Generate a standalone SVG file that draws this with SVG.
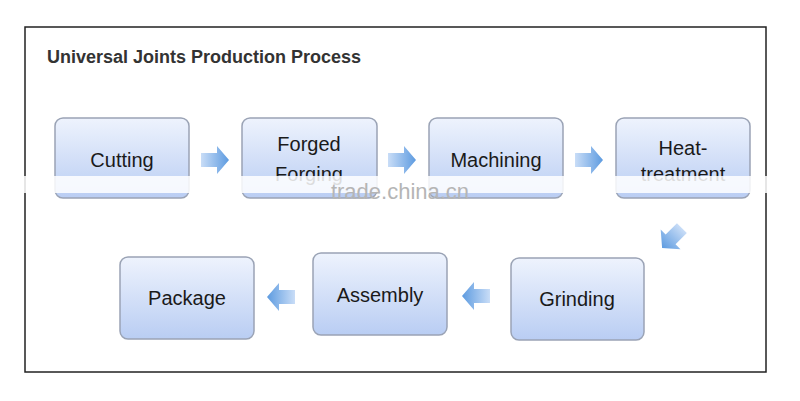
<svg xmlns="http://www.w3.org/2000/svg" width="800" height="401" viewBox="0 0 800 401">
<defs>
<linearGradient id="g" x1="0" y1="0" x2="0" y2="1"><stop offset="0" stop-color="#eef3fd"/><stop offset="1" stop-color="#b9cdf3"/></linearGradient>
<linearGradient id="a" x1="0" y1="0" x2="1" y2="0"><stop offset="0" stop-color="#c9ddf7"/><stop offset="1" stop-color="#5d9be0"/></linearGradient>
<path id="arr" d="M-14,-7 H2 V-14 L14,0 L2,14 V7 H-14 Z" fill="url(#a)"/>
</defs>
<style>
.b{fill:url(#g);stroke:#9aa3b5;stroke-width:1.5}
.t{font-family:"Liberation Sans",Arial,sans-serif;font-size:20px;fill:#1a1a1a;text-anchor:middle}
</style>
<rect width="800" height="401" fill="#fff"/>
<rect x="25" y="27" width="741" height="345" fill="none" stroke="#222" stroke-width="1.5"/>
<text x="47" y="63" font-family="Liberation Sans,Arial,sans-serif" font-size="18" font-weight="bold" fill="#333">Universal Joints Production Process</text>
<g id="cutting"><rect class="b" x="55" y="118" width="134" height="80" rx="8"/><text class="t" x="122" y="167">Cutting</text></g>
<g id="forging"><rect class="b" x="242" y="118" width="135" height="80" rx="8"/><text class="t" x="309" y="151">Forged</text><text class="t" x="309" y="181">Forging</text></g>
<g id="machining"><rect class="b" x="429" y="118" width="134" height="80" rx="8"/><text class="t" x="496" y="167">Machining</text></g>
<g id="heat"><rect class="b" x="616" y="118" width="134" height="80" rx="8"/><text class="t" x="683" y="155">Heat-</text><text class="t" x="683" y="181">treatment</text></g>
<g id="grinding"><rect class="b" x="511" y="258" width="133" height="82" rx="8"/><text class="t" x="577" y="306">Grinding</text></g>
<g id="assembly"><rect class="b" x="313" y="253" width="134" height="82" rx="8"/><text class="t" x="380" y="302">Assembly</text></g>
<g id="package"><rect class="b" x="120" y="257" width="134" height="82" rx="8"/><text class="t" x="187" y="305">Package</text></g>
<g id="connectors">
<use href="#arr" transform="translate(215,160)"/>
<use href="#arr" transform="translate(402,160)"/>
<use href="#arr" transform="translate(589,160)"/>
<use href="#arr" transform="translate(672,238) rotate(135)"/>
<use href="#arr" transform="translate(476,296) rotate(180)"/>
<use href="#arr" transform="translate(281,297) rotate(180)"/>
</g>
<rect x="0" y="176" width="800" height="17" fill="#fff" opacity="0.85"/>
<text x="400" y="199" font-family="Liberation Sans,Arial,sans-serif" font-size="22" fill="#b5b5b5" text-anchor="middle">trade.china.cn</text>
</svg>
